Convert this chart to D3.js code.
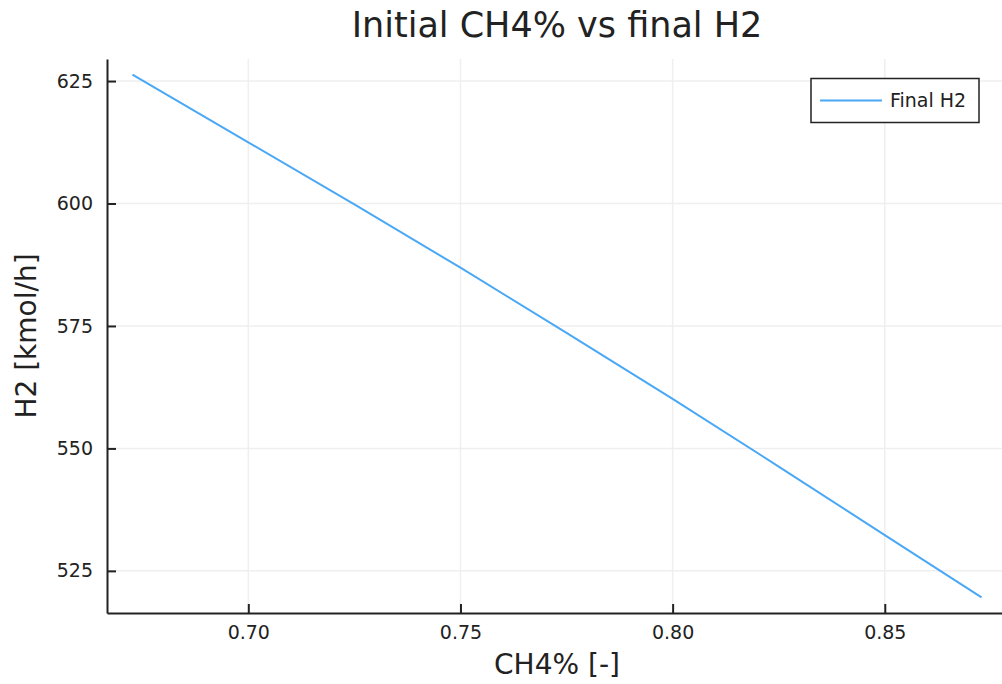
<!DOCTYPE html>
<html>
<head>
<meta charset="utf-8">
<script src="https://cdn.jsdelivr.net/npm/d3@7"></script>
<style>
    body { margin: 0; background: #fff; }
    svg text { font-family: "DejaVu Sans", sans-serif; fill: #222; }
</style>
</head>
<body>
<div id="chart"></div>
<script>
// values
const ch4 = [0.6727, 0.70, 0.725, 0.75, 0.775, 0.80, 0.825, 0.85, 0.8728]
const h2 = [626.3, 612.5, 599.8, 586.9, 573.6, 560.1, 546.3, 532.3, 519.6]
const xTicks = [0.70, 0.75, 0.80, 0.85]
const yTicks = [525, 550, 575, 600, 625]
const seriesName = 'Final H2'

const W = 1002, H = 684
const plotLeft = 107, plotTop = 59, plotRight = 1007, plotBottom = 613

const svg = d3.select('#chart').append('svg')
    .attr('width', W)
    .attr('height', H)

// plots.jl style padding of 3% round the data
const xPad = (d3.max(ch4) - d3.min(ch4)) * 0.03
const yPad = (d3.max(h2) - d3.min(h2)) * 0.03
const x = d3.scaleLinear()
    .domain([d3.min(ch4) - xPad, d3.max(ch4) + xPad])
    .range([plotLeft, plotRight])
const y = d3.scaleLinear()
    .domain([d3.min(h2) - yPad, d3.max(h2) + yPad])
    .range([plotBottom, plotTop])

// grid
svg.append('g')
    .selectAll('line')
    .data(xTicks)
    .enter()
    .append('line')
    .attr('x1', d => x(d)).attr('x2', d => x(d))
    .attr('y1', plotTop).attr('y2', plotBottom)
    .attr('stroke', '#efefef')
    .attr('stroke-width', 1.5)
svg.append('g')
    .selectAll('line')
    .data(yTicks)
    .enter()
    .append('line')
    .attr('x1', plotLeft).attr('x2', plotRight)
    .attr('y1', d => y(d)).attr('y2', d => y(d))
    .attr('stroke', '#efefef')
    .attr('stroke-width', 1.5)

// axes, ticks point inward
const xAxis = svg.append('g')
    .attr('transform', `translate(0,${plotBottom})`)
    .call(d3.axisBottom(x).tickValues(xTicks).tickFormat(d3.format('.2f')).tickSizeInner(-9).tickSizeOuter(0))
const yAxis = svg.append('g')
    .attr('transform', `translate(${plotLeft},0)`)
    .call(d3.axisLeft(y).tickValues(yTicks).tickSizeInner(-9).tickSizeOuter(0))

;[xAxis, yAxis].forEach(a => {
    a.select('.domain').attr('stroke', '#222').attr('stroke-width', 2)
    a.selectAll('.tick line').attr('stroke', '#222').attr('stroke-width', 2)
    a.selectAll('.tick text')
        .style('font-family', '"DejaVu Sans", sans-serif')
        .style('font-size', '19px')
        .attr('fill', '#222')
})
xAxis.selectAll('.tick text').attr('dy', '0.71em').attr('y', 13)
yAxis.selectAll('.tick text').attr('x', -14)

// series
const line = d3.line()
    .x((d, i) => x(ch4[i]))
    .y(d => y(d))
svg.append('path')
    .datum(h2)
    .attr('d', line)
    .attr('fill', 'none')
    .attr('stroke', '#4aa8f5')
    .attr('stroke-width', 2)

// title and labels
svg.append('text')
    .attr('x', (plotLeft + plotRight) / 2)
    .attr('y', 37)
    .attr('text-anchor', 'middle')
    .style('font-size', '35px')
    .text('Initial CH4% vs final H2')
svg.append('text')
    .attr('x', (plotLeft + plotRight) / 2)
    .attr('y', 674)
    .attr('text-anchor', 'middle')
    .style('font-size', '28px')
    .text('CH4% [-]')
svg.append('text')
    .attr('transform', `translate(36,${(plotTop + plotBottom) / 2}) rotate(-90)`)
    .attr('text-anchor', 'middle')
    .style('font-size', '28px')
    .text('H2 [kmol/h]')

// legend
const lg = svg.append('g')
lg.append('rect')
    .attr('x', 811).attr('y', 78.5)
    .attr('width', 168).attr('height', 44)
    .attr('fill', '#fff')
    .attr('stroke', '#222')
    .attr('stroke-width', 1.5)
lg.append('line')
    .attr('x1', 820).attr('x2', 882)
    .attr('y1', 100.5).attr('y2', 100.5)
    .attr('stroke', '#4aa8f5')
    .attr('stroke-width', 2)
lg.append('text')
    .attr('x', 890)
    .attr('y', 107)
    .style('font-size', '19px')
    .text(seriesName)
</script>
</body>
</html>
